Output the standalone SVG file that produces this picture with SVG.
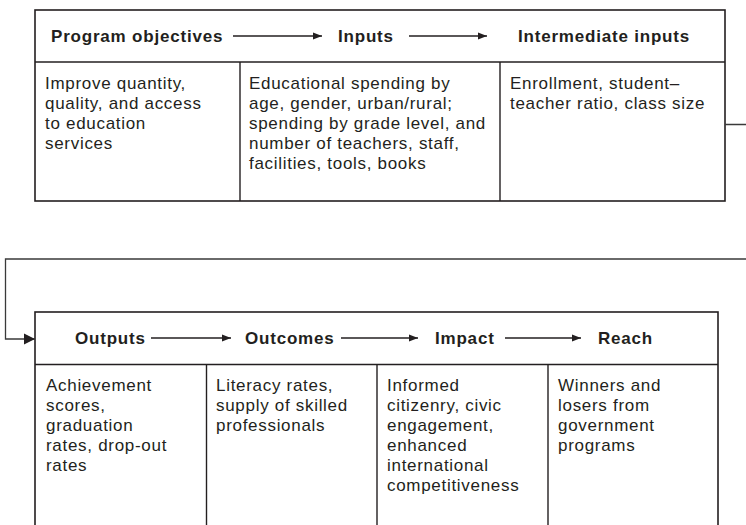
<svg xmlns="http://www.w3.org/2000/svg" width="746" height="525" viewBox="0 0 746 525">
  <style>
    .box { fill: #ffffff; stroke: #231f20; stroke-width: 1.6; }
    .div { stroke: #231f20; stroke-width: 1.4; fill: none; }
    .hd { font-family: "Liberation Sans", Arial, sans-serif; font-size: 17px; font-weight: bold; fill: #231f20; letter-spacing: 0.8px; }
    .tx { font-family: "Liberation Sans", Arial, sans-serif; font-size: 17px; fill: #231f20; letter-spacing: 0.7px; }
    .arr { stroke: #231f20; stroke-width: 1.5; fill: none; }
    .con { stroke: #3a3a3a; stroke-width: 1.3; fill: none; }
  </style>
  <defs>
    <marker id="ah" markerWidth="9" markerHeight="8" refX="9" refY="4" orient="auto" markerUnits="userSpaceOnUse">
      <path d="M0,0.5 L9,4 L0,7.5 Z" fill="#231f20"/>
    </marker>
    <marker id="ahBig" markerWidth="11" markerHeight="12" refX="11" refY="6" orient="auto" markerUnits="userSpaceOnUse">
      <path d="M0,0.5 L11,6 L0,11.5 Z" fill="#231f20"/>
    </marker>
  </defs>

  <g id="top-panel">
    <rect class="box" x="35" y="10" width="690" height="191"/>
    <line class="div" x1="35" y1="62" x2="725" y2="62"/>
    <line class="div" x1="240" y1="62" x2="240" y2="201"/>
    <line class="div" x1="500" y1="62" x2="500" y2="201"/>
  </g>

  <g id="node-program-objectives">
    <text class="hd" x="51" y="42">Program objectives</text>
    <text class="tx" x="45" y="89">Improve quantity,</text>
    <text class="tx" x="45" y="109">quality, and access</text>
    <text class="tx" x="45" y="129">to education</text>
    <text class="tx" x="45" y="149">services</text>
  </g>

  <g id="node-inputs">
    <text class="hd" x="338" y="42">Inputs</text>
    <text class="tx" x="249" y="89">Educational spending by</text>
    <text class="tx" x="249" y="109">age, gender, urban/rural;</text>
    <text class="tx" x="249" y="129">spending by grade level, and</text>
    <text class="tx" x="249" y="149">number of teachers, staff,</text>
    <text class="tx" x="249" y="169">facilities, tools, books</text>
  </g>

  <g id="node-intermediate-inputs">
    <text class="hd" x="518" y="42">Intermediate inputs</text>
    <text class="tx" x="510" y="89">Enrollment, student–</text>
    <text class="tx" x="510" y="109">teacher ratio, class size</text>
  </g>

  <g id="bottom-panel">
    <rect class="box" x="35" y="312" width="683" height="230"/>
    <line class="div" x1="35" y1="364.5" x2="718" y2="364.5"/>
    <line class="div" x1="206.5" y1="364.5" x2="206.5" y2="530"/>
    <line class="div" x1="377" y1="364.5" x2="377" y2="530"/>
    <line class="div" x1="548" y1="364.5" x2="548" y2="530"/>
  </g>

  <g id="node-outputs">
    <text class="hd" x="75" y="344">Outputs</text>
    <text class="tx" x="46" y="391">Achievement</text>
    <text class="tx" x="46" y="411">scores,</text>
    <text class="tx" x="46" y="431">graduation</text>
    <text class="tx" x="46" y="451">rates, drop-out</text>
    <text class="tx" x="46" y="471">rates</text>
  </g>

  <g id="node-outcomes">
    <text class="hd" x="245" y="344">Outcomes</text>
    <text class="tx" x="216" y="391">Literacy rates,</text>
    <text class="tx" x="216" y="411">supply of skilled</text>
    <text class="tx" x="216" y="431">professionals</text>
  </g>

  <g id="node-impact">
    <text class="hd" x="435" y="344">Impact</text>
    <text class="tx" x="387" y="391">Informed</text>
    <text class="tx" x="387" y="411">citizenry, civic</text>
    <text class="tx" x="387" y="431">engagement,</text>
    <text class="tx" x="387" y="451">enhanced</text>
    <text class="tx" x="387" y="471">international</text>
    <text class="tx" x="387" y="491">competitiveness</text>
  </g>

  <g id="node-reach">
    <text class="hd" x="598" y="344">Reach</text>
    <text class="tx" x="558" y="391">Winners and</text>
    <text class="tx" x="558" y="411">losers from</text>
    <text class="tx" x="558" y="431">government</text>
    <text class="tx" x="558" y="451">programs</text>
  </g>

  <g id="connectors">
    <line class="arr" x1="233" y1="36" x2="322" y2="36" marker-end="url(#ah)"/>
    <line class="arr" x1="409" y1="36" x2="487" y2="36" marker-end="url(#ah)"/>
    <line class="arr" x1="151" y1="338" x2="231" y2="338" marker-end="url(#ah)"/>
    <line class="arr" x1="341" y1="338" x2="418" y2="338" marker-end="url(#ah)"/>
    <line class="arr" x1="505" y1="338" x2="581" y2="338" marker-end="url(#ah)"/>
    <path class="con" d="M725,124.5 H752 V259 H5.5 V339 H35" marker-end="url(#ahBig)"/>
  </g>
</svg>
